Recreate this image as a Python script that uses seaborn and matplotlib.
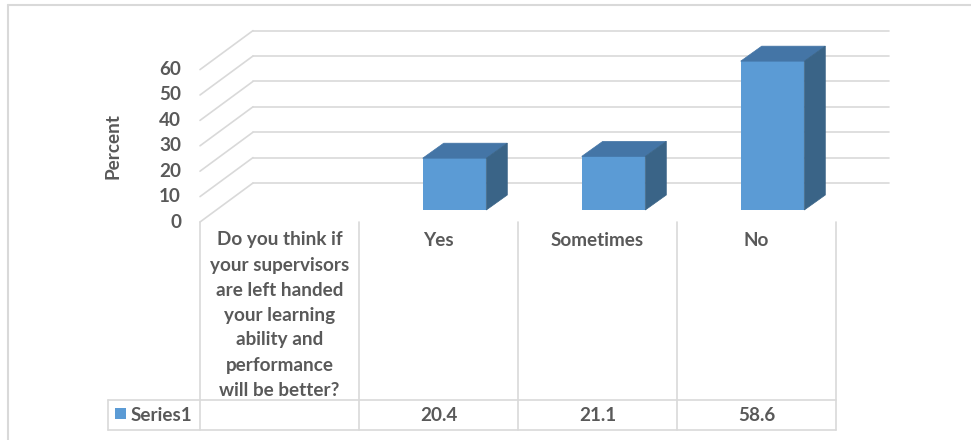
import matplotlib
matplotlib.use("Agg")
import matplotlib.pyplot as plt
import seaborn as sns
import pandas as pd
from matplotlib.patches import Polygon, Rectangle
from matplotlib.lines import Line2D

# ---------------- data ----------------
question = ("Do you think if\nyour supervisors\nare left handed\nyour learning\n"
            "ability and\nperformance\nwill be better?")
answers = ["Yes", "Sometimes", "No"]
percent = [20.4, 21.1, 58.6]
value_labels = ["20.4", "21.1", "58.6"]
series_name = "Series1"
y_ticks = [0, 10, 20, 30, 40, 50, 60]
y_label = "Percent"

# ---------------- style ----------------
sns.set_style("white")
plt.rcParams['font.family'] = ['Lato', 'DejaVu Sans']
TXT = "#595959"
GRID = "#D9D9D9"
FRONT = "#5B9BD5"
TOP = "#4475A6"
SIDE = "#3A6487"
FS = 13.6

W, H = 971, 440
fig = plt.figure(figsize=(W / 100, H / 100), dpi=100)
fig.patch.set_facecolor("white")

# bar plane axes (pixel geometry)
x0_px, x1_px = 216, 852
y0_px = 210
ppu_y = 2.54
ymax = 60
ytop_px = y0_px - ymax * ppu_y
ax = fig.add_axes([x0_px / W, 1 - y0_px / H, (x1_px - x0_px) / W, (y0_px - ytop_px) / H])

order = [question.replace("\n", " ")] + answers
df = pd.DataFrame({"answer": answers, "percent": percent})
sns.barplot(data=df, x="answer", y="percent", order=order, width=0.4,
            color=FRONT, saturation=1, ax=ax, zorder=3, linewidth=0)
ax.set_xlim(-0.5, len(order) - 0.5)
ax.set_ylim(0, ymax)
ax.axis("off")

ux = (x1_px - x0_px) / len(order)   # px per category
uy = ppu_y                          # px per percent


def off(dx_px, dy_px_screen):
    return dx_px / ux, -dy_px_screen / uy


fdx, fdy = off(-16, 12)     # front plane
bdx, bdy = off(37, -27)     # back wall plane
ddx, ddy = off(21, -15)     # bar depth

# walls / gridlines
for v in y_ticks:
    fx, fy = -0.5 + fdx, v + fdy
    bx, by = -0.5 + bdx, v + bdy
    ax.plot([fx, bx], [fy, by], color=GRID, lw=1.2, clip_on=False, zorder=1)
    ax.plot([bx, len(order) - 0.5 + bdx], [by, by], color=GRID, lw=1.2,
            clip_on=False, zorder=1)
    ax.text(-0.5 + fdx - 19 / ux, v + fdy, str(v), ha="right", va="center",
            fontsize=FS, fontweight="bold", color=TXT, clip_on=False)

# 3D faces of the bars
bars = list(ax.patches)
for p in bars:
    x, w, h = p.get_x(), p.get_width(), p.get_height()
    top = Polygon([(x, h), (x + w, h), (x + w + ddx, h + ddy), (x + ddx, h + ddy)],
                  closed=True, facecolor=TOP, edgecolor=TOP, lw=0.5,
                  clip_on=False, zorder=4)
    side = Polygon([(x + w, 0), (x + w + ddx, ddy), (x + w + ddx, h + ddy), (x + w, h)],
                   closed=True, facecolor=SIDE, edgecolor=SIDE, lw=0.5,
                   clip_on=False, zorder=4)
    ax.add_patch(top)
    ax.add_patch(side)
    p.set_clip_on(False)

# y label
fig.text(113 / W, 1 - 146 / H, y_label, rotation=90, ha="center", va="center",
         fontsize=FS, fontweight="bold", color=TXT)


# ---------------- data table ----------------
def fline(xa, ya, xb, yb, color=GRID, lw=1.2):
    fig.add_artist(Line2D([xa / W, xb / W], [1 - ya / H, 1 - yb / H],
                          transform=fig.transFigure, color=color, lw=lw))


col_px = [200 + ux * i for i in range(len(order) + 1)]
tab_top, row_top, row_bot = 222, 400, 430
for cx in col_px:
    fline(cx, tab_top, cx, row_bot)
fline(108, row_top, col_px[-1], row_top)
fline(108, row_bot, col_px[-1], row_bot)
fline(108, row_top, 108, row_bot)

labels = [question] + answers
for i, lab in enumerate(labels):
    cx = (col_px[i] + col_px[i + 1]) / 2
    for j, line in enumerate(lab.split("\n")):
        fig.text(cx / W, 1 - (240 + 25 * j) / H, line, ha="center", va="center",
                 fontsize=FS, fontweight="bold", color=TXT)

vals = [""] + value_labels
for i, s in enumerate(vals):
    cx = (col_px[i] + col_px[i + 1]) / 2
    fig.text(cx / W, 1 - 415 / H, s, ha="center", va="center",
             fontsize=FS, fontweight="bold", color=TXT)

fig.add_artist(Rectangle((115 / W, 1 - 419 / H), 11 / W, 11 / H,
                         transform=fig.transFigure, facecolor=FRONT, edgecolor="none"))
fig.text(131 / W, 1 - 415 / H, series_name, ha="left", va="center",
         fontsize=FS, fontweight="bold", color=TXT)

# chart border (top and left visible)
fline(8, 5, W, 5, color="#D9D9D9", lw=1.5)
fline(8, 5, 8, H, color="#D9D9D9", lw=1.5)

fig.savefig("out.png", dpi=100)
